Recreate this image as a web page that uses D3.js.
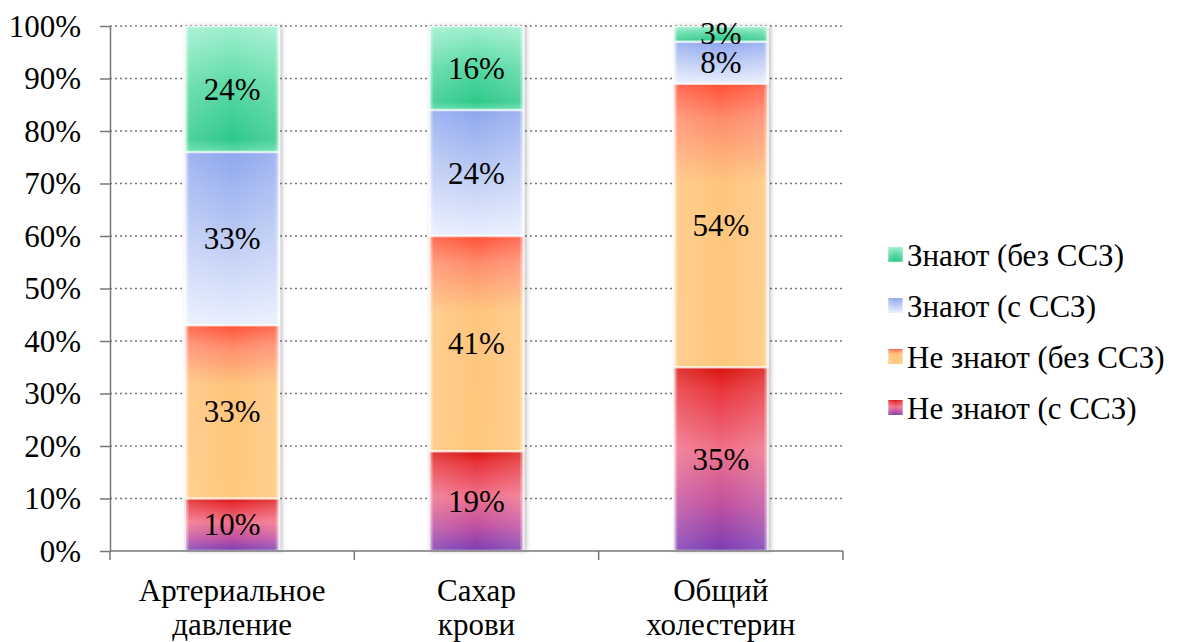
<!DOCTYPE html>
<html><head><meta charset="utf-8">
<script src="https://cdn.jsdelivr.net/npm/d3@7"></script>
</head><body style="margin:0"><svg id="c" width="1178" height="642"></svg>
<script>
const FONT = "'Times New Roman'";
const FS = 31;
const categories = [["Артериальное","давление"],["Сахар","крови"],["Общий","холестерин"]];
const seriesNames = ["Не знают (с ССЗ)","Не знают (без ССЗ)","Знают (с ССЗ)","Знают (без ССЗ)"];
const neZnayutS = [10,19,35];
const neZnayutBez = [33,41,54];
const znayutS = [33,24,8];
const znayutBez = [24,16,3];
const yTicks = [0,10,20,30,40,50,60,70,80,90,100];
const seriesValues = [neZnayutS, neZnayutBez, znayutS, znayutBez];
const gradStops = [
  [[0,"#d9140f"],[0.12,"#e8343a"],[0.45,"#f0708a"],[0.75,"#c050a0"],[1,"#7a3cb4"]],
  [[0,"#ff5035"],[0.12,"#ff8a6a"],[0.35,"#ffc57c"],[1,"#ffc77c"]],
  [[0,"#8ea6ee"],[0.5,"#bccbf4"],[1,"#e9effe"]],
  [[0,"#9ff0cf"],[0.5,"#55d8a2"],[0.9,"#2fc98a"],[1,"#5edcaa"]]
];

const svg = d3.select("#c").style("display","block");
const m = {l:110, r:843, t:26, b:551};
const x = d3.scaleBand().domain(d3.range(categories.length)).range([m.l,m.r]).paddingInner(0.61).paddingOuter(0.305);
const xb = d3.scaleBand().domain(d3.range(categories.length)).range([m.l,m.r]);
const y = d3.scaleLinear().domain([0,100]).range([m.b,m.t]);

const defs = svg.append("defs");
gradStops.forEach((st,i)=>{
  const g = defs.append("linearGradient").attr("id","g"+i).attr("x1",0).attr("y1",0).attr("x2",0).attr("y2",1);
  st.forEach(s=>g.append("stop").attr("offset",s[0]).attr("stop-color",s[1]));
});
const side = defs.append("linearGradient").attr("id","side").attr("x1",0).attr("x2",1);
[[0,"#fff",0.85],[0.05,"#fff",0.15],[0.5,"#fff",0],[0.95,"#fff",0.15],[1,"#fff",0.85]].forEach(s=>side.append("stop").attr("offset",s[0]).attr("stop-color",s[1]).attr("stop-opacity",s[2]));
const f = defs.append("filter").attr("id","sh").attr("x","-20%").attr("y","-5%").attr("width","140%").attr("height","110%");
f.append("feDropShadow").attr("dx",2).attr("dy",0).attr("stdDeviation",2).attr("flood-color","#000").attr("flood-opacity",0.25);

function txt(sel){ return sel.attr("font-size",FS).style("font-family",FONT); }

// gridlines
svg.append("g").selectAll("line").data(yTicks.filter(d=>d>0)).join("line")
  .attr("x1",m.l).attr("x2",m.r).attr("y1",d=>y(d)).attr("y2",d=>y(d))
  .attr("stroke","#777").attr("stroke-width",1.3).attr("stroke-dasharray","2,3");

// y axis lines
const ya = svg.append("g").attr("transform",`translate(${m.l},0)`)
  .call(d3.axisLeft(y).tickValues(yTicks).tickFormat("").tickSize(10).tickSizeOuter(0));
ya.select(".domain").attr("stroke","#777").attr("stroke-width",1.5);
ya.selectAll(".tick line").attr("stroke","#777").attr("stroke-width",1.5);
ya.selectAll(".tick text").remove();
yTicks.forEach(t=>{
  txt(svg.append("text")).attr("x",81).attr("y",y(t)+10.5).attr("text-anchor","end").text(t+"%");
});

// stacked bars
const stacked = categories.map((c,i)=>{let acc=0;return seriesValues.map((s,k)=>{const y0=acc;acc+=s[i];return {i,k,y0,y1:acc,v:s[i]};});});
const bars = svg.append("g");
stacked.forEach(col=>{
  const g = bars.append("g").attr("filter","url(#sh)");
  col.forEach(d=>{
    const x0 = x(d.i), w = x.bandwidth(), top = y(d.y1), h = y(d.y0)-y(d.y1);
    g.append("rect").attr("x",x0).attr("y",top).attr("width",w).attr("height",h).attr("fill",`url(#g${d.k})`);
    g.append("rect").attr("x",x0).attr("y",top).attr("width",w).attr("height",h).attr("fill","url(#side)");
    g.append("rect").attr("x",x0+0.5).attr("y",top+0.5).attr("width",w-1).attr("height",Math.max(0,h-1)).attr("fill","none").attr("stroke","#fff").attr("stroke-opacity",0.7).attr("stroke-width",1.5);
  });
});
// labels
stacked.forEach(col=>col.forEach(d=>{
  txt(svg.append("text")).attr("x",x(d.i)+x.bandwidth()/2).attr("y",(y(d.y0)+y(d.y1))/2+10.5)
    .attr("text-anchor","middle").text(d.v+"%");
}));

// x axis
svg.append("line").attr("x1",m.l).attr("x2",m.r).attr("y1",m.b).attr("y2",m.b).attr("stroke","#777").attr("stroke-width",1.5);
const bounds = [...d3.range(categories.length).map(i=>xb(i)), m.r];
svg.append("g").selectAll("line").data(bounds).join("line").attr("x1",d=>d).attr("x2",d=>d).attr("y1",m.b).attr("y2",m.b+9).attr("stroke","#777").attr("stroke-width",1.5);
categories.forEach((c,i)=>{
  c.forEach((ln,j)=>txt(svg.append("text")).attr("text-anchor","middle").attr("x",xb(i)+xb.bandwidth()/2).attr("y",601+j*34).text(ln));
});

// legend
const legOrder = [3,2,1,0];
legOrder.forEach((k,j)=>{
  const yy = 255+j*51;
  svg.append("rect").attr("x",888).attr("y",yy-8).attr("width",15).attr("height",15).attr("fill",`url(#g${k})`);
  svg.append("rect").attr("x",888).attr("y",yy-8).attr("width",15).attr("height",15).attr("fill","url(#side)");
  txt(svg.append("text")).attr("x",907).attr("y",yy+10.5).text(seriesNames[k]);
});
</script></body></html>
